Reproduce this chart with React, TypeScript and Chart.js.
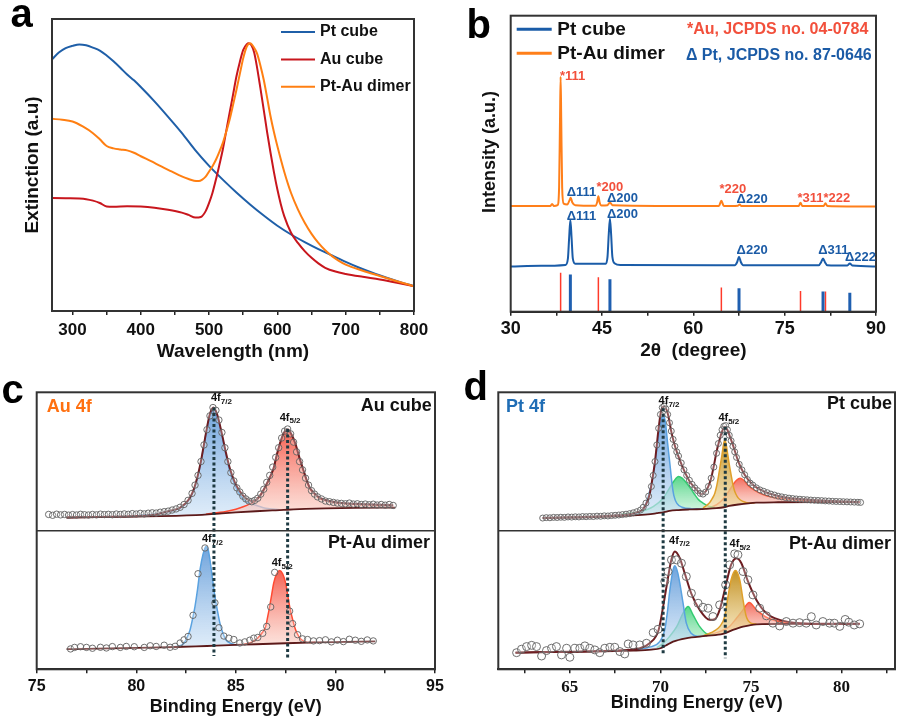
import { useEffect, useRef } from 'react';
import { Chart, registerables } from 'chart.js';

Chart.register(...registerables);

const SANS = "'Liberation Sans', Arial, Helvetica, sans-serif";
const SERIF = "'Liberation Serif', 'Times New Roman', serif";
Chart.defaults.font.family = SANS;

type P = [number, number];

// ---------------- Panel a: UV-vis extinction ----------------
const uvSeriesNames = ['Pt cube', 'Au cube', 'Pt-Au dimer'];
const uvPtCube: P[] = [[270,0.862],[280,0.885],[290,0.9],[300,0.908],[310,0.913],[320,0.91],[330,0.902],[340,0.892],[350,0.875],[360,0.855],[370,0.833],[380,0.81],[390,0.79],[400,0.767],[420,0.718],[440,0.665],[460,0.61],[480,0.55],[500,0.497],[520,0.45],[540,0.406],[560,0.365],[580,0.327],[600,0.292],[620,0.262],[640,0.236],[660,0.212],[680,0.19],[700,0.168],[720,0.148],[740,0.13],[760,0.114],[780,0.099],[800,0.085]];
const uvAuCube: P[] = [[270,0.387],[290,0.386],[310,0.385],[320,0.383],[330,0.378],[340,0.37],[350,0.358],[360,0.357],[380,0.359],[400,0.358],[420,0.354],[440,0.347],[460,0.337],[470,0.329],[480,0.32],[488,0.322],[495,0.342],[500,0.37],[505,0.405],[510,0.45],[515,0.5],[520,0.552],[525,0.615],[530,0.678],[535,0.74],[540,0.803],[545,0.853],[550,0.894],[555,0.913],[558,0.917],[562,0.91],[566,0.885],[570,0.837],[575,0.765],[580,0.689],[585,0.612],[590,0.541],[595,0.475],[600,0.416],[605,0.366],[610,0.325],[620,0.268],[630,0.233],[640,0.205],[650,0.182],[660,0.163],[670,0.148],[685,0.135],[700,0.127],[725,0.117],[750,0.108],[775,0.097],[800,0.085]];
const uvPtAuDimer: P[] = [[270,0.658],[285,0.655],[300,0.649],[315,0.632],[330,0.609],[340,0.588],[350,0.565],[360,0.557],[370,0.553],[380,0.55],[390,0.542],[400,0.53],[415,0.513],[430,0.495],[445,0.478],[460,0.461],[470,0.452],[478,0.446],[485,0.445],[490,0.45],[495,0.46],[500,0.478],[505,0.496],[510,0.518],[515,0.545],[520,0.575],[525,0.613],[530,0.655],[535,0.705],[540,0.757],[545,0.812],[550,0.866],[555,0.905],[560,0.917],[565,0.905],[570,0.883],[575,0.842],[580,0.792],[585,0.73],[590,0.666],[595,0.612],[600,0.564],[610,0.477],[620,0.404],[630,0.348],[640,0.302],[650,0.264],[660,0.233],[670,0.208],[680,0.188],[690,0.172],[700,0.159],[725,0.138],[750,0.12],[775,0.102],[800,0.085]];

// ---------------- Panel b: XRD ----------------
const xrdSeriesNames = ['Pt cube', 'Pt-Au dimer'];
const xrdPtCube: P[] = [[30,0.153],[35,0.155],[39.0,0.158],[39.4,0.18],[39.6,0.25],[39.8,0.31],[40.0,0.25],[40.2,0.18],[40.6,0.162],[45.6,0.162],[45.9,0.185],[46.1,0.26],[46.3,0.315],[46.5,0.26],[46.7,0.185],[47.1,0.163],[48,0.158],[66.8,0.157],[67.2,0.168],[67.5,0.186],[67.8,0.168],[68.2,0.157],[80.6,0.157],[81.0,0.168],[81.3,0.18],[81.6,0.168],[82.0,0.157],[85.3,0.156],[85.7,0.163],[86.1,0.156],[90,0.153]];
const xrdPtAuDimer: P[] = [[30,0.357],[36.5,0.357],[36.8,0.364],[37.1,0.357],[37.7,0.36],[37.95,0.42],[38.1,0.65],[38.2,0.794],[38.3,0.65],[38.45,0.42],[38.7,0.365],[39.3,0.362],[39.65,0.376],[39.85,0.385],[40.1,0.37],[40.6,0.36],[43.9,0.358],[44.2,0.37],[44.4,0.39],[44.6,0.37],[44.9,0.359],[45.9,0.36],[46.3,0.369],[46.7,0.36],[64.2,0.357],[64.6,0.375],[65.0,0.357],[67.3,0.358],[67.6,0.362],[67.9,0.357],[77.3,0.357],[77.6,0.368],[77.9,0.357],[81.4,0.357],[81.7,0.366],[82.0,0.357],[90,0.355]];
const auRefPos = [38.2, 44.4, 64.6, 77.6, 81.7];
const auRefInt = [0.132, 0.116, 0.082, 0.07, 0.068];
const ptRefPos = [39.8, 46.3, 67.5, 81.3, 85.7];
const ptRefInt = [0.126, 0.11, 0.079, 0.068, 0.064];
const xrdLabelText = ['*111','Δ111','*200','Δ200','*220','Δ220','*311*222','Δ111','Δ200','Δ220','Δ311','Δ222'];
const xrdLabelX = [38.1,39.2,44.1,45.8,64.3,67.1,77.1,39.2,45.8,67.1,80.5,84.9];
const xrdLabelY = [0.796,0.402,0.42,0.383,0.413,0.38,0.383,0.323,0.329,0.208,0.208,0.182];

// ---------------- Panel c: Au 4f XPS ----------------
const auCubeBg: P[] = [[76.5,1.096],[78,1.099],[80,1.103],[82,1.108],[83,1.113],[83.6,1.118],[84.3,1.126],[85,1.133],[86,1.141],[87,1.148],[87.6,1.152],[88.5,1.158],[89.5,1.162],[91,1.166],[93,1.168]];
const auCube7: P[] = [[80.2,1.112],[81,1.122],[81.5,1.135],[82,1.152],[82.2,1.163],[82.45,1.19],[82.7,1.235],[82.9,1.3],[83.07,1.38],[83.25,1.5],[83.4,1.62],[83.55,1.74],[83.7,1.84],[83.87,1.885],[84.05,1.84],[84.3,1.69],[84.5,1.55],[84.7,1.43],[84.95,1.33],[85.2,1.26],[85.5,1.215],[85.9,1.19],[86.5,1.163],[87.2,1.152]];
const auCube5: P[] = [[83.5,1.12],[84.5,1.14],[85.0,1.155],[85.4,1.175],[85.7,1.195],[86.0,1.22],[86.25,1.265],[86.5,1.32],[86.7,1.38],[86.9,1.45],[87.05,1.54],[87.2,1.62],[87.4,1.7],[87.6,1.728],[87.8,1.69],[88.0,1.62],[88.2,1.52],[88.4,1.43],[88.55,1.365],[88.7,1.31],[88.95,1.265],[89.2,1.235],[89.7,1.212],[90.2,1.2],[91,1.192],[91.9,1.187],[92.9,1.183]];
const auCubeFit: P[] = [[76.5,1.096],[78,1.1],[80,1.106],[81,1.118],[81.5,1.137],[82,1.155],[82.2,1.168],[82.45,1.195],[82.7,1.24],[82.9,1.305],[83.07,1.388],[83.25,1.505],[83.4,1.625],[83.55,1.745],[83.7,1.845],[83.87,1.89],[84.05,1.845],[84.3,1.7],[84.5,1.565],[84.7,1.45],[84.95,1.35],[85.2,1.285],[85.5,1.235],[85.75,1.215],[85.95,1.218],[86.2,1.25],[86.5,1.325],[86.7,1.385],[86.9,1.455],[87.05,1.545],[87.2,1.625],[87.4,1.705],[87.6,1.733],[87.8,1.695],[88.0,1.625],[88.2,1.525],[88.4,1.435],[88.55,1.37],[88.7,1.315],[88.95,1.27],[89.2,1.24],[89.7,1.215],[90.2,1.203],[91,1.195],[91.9,1.19],[92.9,1.185]];
const auCubeRaw: P[] = [[75.6,1.118],[75.8,1.112],[76.0,1.12],[76.2,1.115],[76.4,1.118],[76.6,1.113],[76.8,1.117],[77.0,1.114],[77.2,1.119],[77.4,1.116],[77.6,1.114],[77.8,1.118],[78.0,1.115],[78.2,1.12],[78.4,1.117],[78.6,1.119],[78.8,1.116],[79.0,1.121],[79.2,1.118],[79.4,1.122],[79.6,1.119],[79.8,1.124],[80.0,1.121],[80.2,1.126],[80.4,1.122],[80.6,1.127],[80.8,1.13],[81.0,1.128],[81.2,1.134],[81.4,1.138],[81.6,1.142],[81.8,1.15],[82.0,1.158],[82.2,1.17],[82.4,1.19],[82.6,1.22],[82.8,1.27],[82.95,1.33],[83.1,1.4],[83.25,1.5],[83.4,1.62],[83.55,1.73],[83.7,1.83],[83.85,1.89],[84.0,1.87],[84.15,1.8],[84.3,1.71],[84.45,1.6],[84.6,1.5],[84.75,1.42],[84.9,1.36],[85.05,1.31],[85.2,1.28],[85.35,1.25],[85.5,1.23],[85.65,1.215],[85.8,1.21],[85.95,1.22],[86.1,1.235],[86.25,1.265],[86.4,1.3],[86.55,1.35],[86.7,1.4],[86.85,1.46],[87.0,1.53],[87.15,1.6],[87.3,1.67],[87.45,1.72],[87.6,1.735],[87.75,1.7],[87.9,1.64],[88.05,1.57],[88.2,1.5],[88.35,1.44],[88.5,1.38],[88.65,1.33],[88.8,1.29],[88.95,1.265],[89.1,1.245],[89.3,1.23],[89.5,1.215],[89.7,1.21],[89.9,1.205],[90.1,1.2],[90.3,1.198],[90.5,1.195],[90.7,1.2],[90.9,1.193],[91.1,1.195],[91.3,1.19],[91.5,1.193],[91.7,1.188],[91.9,1.192],[92.1,1.186],[92.3,1.19],[92.5,1.185],[92.7,1.19],[92.9,1.183]];
const auDimerBg: P[] = [[76.5,0.145],[78,0.149],[80,0.155],[82,0.161],[83,0.165],[84,0.171],[85,0.176],[86,0.181],[87.5,0.188],[89,0.194],[90.5,0.198],[92,0.202]];
const auDimer7: P[] = [[81.9,0.163],[82.2,0.17],[82.4,0.19],[82.55,0.23],[82.7,0.284],[82.82,0.36],[82.95,0.455],[83.08,0.58],[83.2,0.718],[83.35,0.83],[83.5,0.887],[83.6,0.87],[83.7,0.79],[83.82,0.66],[83.95,0.525],[84.08,0.42],[84.2,0.333],[84.35,0.26],[84.5,0.213],[84.75,0.187],[85.0,0.178],[85.3,0.177]];
const auDimer5: P[] = [[85.4,0.179],[85.7,0.19],[85.9,0.205],[86.1,0.226],[86.3,0.26],[86.5,0.31],[86.6,0.38],[86.7,0.455],[86.8,0.54],[86.9,0.622],[87.05,0.69],[87.2,0.713],[87.35,0.69],[87.5,0.622],[87.6,0.54],[87.7,0.455],[87.85,0.36],[88.0,0.285],[88.15,0.24],[88.3,0.213],[88.5,0.198],[88.7,0.193],[89,0.195]];
const auDimerRaw: P[] = [[76.7,0.147],[76.9,0.158],[77.2,0.163],[77.5,0.158],[77.8,0.152],[78.2,0.159],[78.5,0.154],[78.8,0.164],[79.2,0.158],[79.5,0.165],[79.9,0.163],[80.4,0.158],[80.7,0.17],[81.0,0.165],[81.4,0.174],[81.7,0.159],[81.95,0.166],[82.2,0.19],[82.4,0.213],[82.6,0.237],[82.85,0.39],[83.1,0.69],[83.45,0.876],[83.95,0.48],[84.15,0.3],[84.4,0.24],[84.65,0.225],[84.9,0.215],[85.2,0.19],[85.45,0.198],[85.7,0.21],[85.9,0.225],[86.1,0.23],[86.35,0.26],[86.55,0.31],[86.75,0.45],[86.95,0.7],[87.7,0.42],[87.85,0.33],[88.1,0.25],[88.35,0.22],[88.6,0.215],[88.9,0.205],[89.2,0.207],[89.5,0.213],[89.8,0.198],[90.1,0.21],[90.4,0.2],[90.7,0.217],[91.0,0.21],[91.3,0.202],[91.6,0.212],[91.9,0.205]];
const auRefLines = [83.9, 87.6];
const auRefTop = [1.89, 1.735];
const auRefBottom = [0.096, 0.08];
const auOrbSub = ['7/2', '5/2', '7/2', '5/2'];
const auOrbX = [83.75, 87.2, 83.3, 86.8];
const auOrbY = [1.958, 1.818, 0.94, 0.765];

// ---------------- Panel d: Pt 4f XPS ----------------
const ptCubeBg: P[] = [[63.5,1.091],[66,1.098],[68.3,1.11],[69.3,1.118],[69.8,1.127],[70.2,1.135],[70.5,1.144],[71,1.15],[71.6,1.154],[72.5,1.158],[73.1,1.163],[73.5,1.17],[73.8,1.18],[74.3,1.19],[75.3,1.203],[76.5,1.206],[79.3,1.207],[81,1.206]];
const ptCube0a: P[] = [[67.5,1.108],[68.1,1.118],[68.5,1.125],[68.9,1.14],[69.1,1.17],[69.3,1.235],[69.45,1.31],[69.6,1.4],[69.75,1.54],[69.9,1.69],[70.05,1.8],[70.15,1.837],[70.28,1.78],[70.4,1.63],[70.55,1.45],[70.65,1.33],[70.75,1.25],[70.9,1.2],[71.2,1.17],[71.7,1.16],[72.4,1.159]];
const ptCube2a: P[] = [[67.9,1.12],[68.9,1.139],[69.6,1.175],[70.15,1.235],[70.5,1.308],[70.75,1.36],[71.0,1.392],[71.2,1.38],[71.45,1.344],[71.7,1.3],[71.9,1.26],[72.1,1.225],[72.35,1.2],[72.7,1.175],[73.0,1.168]];
const ptCube0b: P[] = [[72.35,1.165],[72.7,1.2],[72.85,1.23],[73.0,1.27],[73.1,1.32],[73.2,1.39],[73.3,1.47],[73.4,1.55],[73.48,1.62],[73.55,1.656],[73.62,1.63],[73.7,1.565],[73.8,1.48],[73.9,1.405],[74.0,1.335],[74.1,1.285],[74.25,1.245],[74.4,1.224],[74.6,1.21],[74.9,1.2],[75.2,1.2]];
const ptCube2b: P[] = [[72.5,1.163],[72.8,1.172],[73.1,1.188],[73.4,1.22],[73.65,1.26],[73.85,1.3],[74.0,1.332],[74.2,1.365],[74.4,1.38],[74.6,1.365],[74.9,1.32],[75.3,1.285],[75.7,1.26],[76.2,1.243],[76.8,1.231],[77.6,1.222],[78.4,1.216],[79.5,1.211],[81,1.207]];
const ptCubeFit: P[] = [[63.5,1.092],[65,1.097],[66.5,1.103],[67.5,1.11],[68.3,1.12],[68.7,1.133],[69.0,1.151],[69.2,1.19],[69.4,1.26],[69.55,1.37],[69.7,1.5],[69.8,1.62],[69.9,1.74],[70.05,1.873],[70.2,1.897],[70.4,1.849],[70.6,1.716],[70.75,1.635],[70.9,1.572],[71.25,1.452],[71.6,1.36],[72.0,1.296],[72.26,1.264],[72.5,1.284],[72.8,1.38],[72.95,1.47],[73.1,1.572],[73.25,1.65],[73.4,1.716],[73.55,1.752],[73.7,1.728],[73.85,1.675],[74.0,1.62],[74.3,1.5],[74.65,1.404],[75.1,1.332],[75.7,1.284],[76.6,1.248],[77.5,1.231],[78.6,1.221],[79.3,1.216],[81,1.207]];
const ptCubeRaw: P[] = [[63.5,1.092],[63.7,1.095],[63.9,1.094],[64.1,1.097],[64.3,1.096],[64.5,1.098],[64.7,1.097],[64.9,1.1],[65.1,1.099],[65.3,1.101],[65.5,1.1],[65.7,1.103],[65.9,1.102],[66.1,1.104],[66.3,1.103],[66.5,1.106],[66.7,1.105],[66.9,1.108],[67.1,1.107],[67.3,1.11],[67.5,1.112],[67.7,1.114],[67.9,1.117],[68.1,1.12],[68.3,1.124],[68.5,1.13],[68.7,1.138],[68.9,1.15],[69.05,1.17],[69.2,1.2],[69.35,1.25],[69.5,1.32],[69.6,1.4],[69.7,1.5],[69.8,1.62],[69.9,1.74],[70.0,1.84],[70.1,1.89],[70.2,1.9],[70.3,1.88],[70.4,1.84],[70.5,1.78],[70.6,1.72],[70.7,1.66],[70.8,1.61],[70.9,1.57],[71.0,1.54],[71.15,1.49],[71.3,1.44],[71.45,1.4],[71.6,1.365],[71.75,1.335],[71.9,1.31],[72.05,1.29],[72.2,1.27],[72.35,1.265],[72.5,1.28],[72.65,1.32],[72.8,1.38],[72.95,1.46],[73.1,1.56],[73.2,1.63],[73.3,1.69],[73.4,1.73],[73.5,1.755],[73.6,1.76],[73.7,1.73],[73.8,1.69],[73.9,1.65],[74.0,1.61],[74.1,1.57],[74.2,1.53],[74.35,1.48],[74.5,1.44],[74.65,1.405],[74.8,1.37],[74.95,1.345],[75.1,1.33],[75.3,1.31],[75.5,1.295],[75.7,1.285],[75.9,1.275],[76.1,1.265],[76.3,1.258],[76.5,1.25],[76.7,1.245],[76.9,1.24],[77.1,1.236],[77.3,1.233],[77.5,1.23],[77.7,1.228],[77.9,1.226],[78.1,1.224],[78.3,1.222],[78.5,1.22],[78.7,1.219],[78.9,1.218],[79.1,1.216],[79.3,1.215],[79.5,1.213],[79.7,1.212],[79.9,1.211],[80.1,1.21],[80.3,1.209],[80.5,1.208],[80.7,1.207],[80.9,1.206],[81.05,1.205]];
const ptDimerBg: P[] = [[62,0.12],[65,0.126],[68.5,0.135],[69.5,0.142],[70.0,0.152],[70.3,0.172],[70.7,0.2],[71.4,0.224],[72.5,0.241],[73.45,0.255],[74.0,0.284],[74.56,0.308],[75.3,0.325],[77,0.328],[81,0.328]];
const ptDimer0a: P[] = [[68.5,0.14],[69.4,0.16],[69.96,0.2],[70.24,0.284],[70.4,0.429],[70.5,0.55],[70.6,0.646],[70.7,0.72],[70.8,0.747],[70.95,0.7],[71.07,0.622],[71.25,0.477],[71.43,0.333],[71.7,0.26],[72.17,0.236],[72.6,0.245]];
const ptDimer2a: P[] = [[69.8,0.155],[70.15,0.188],[70.5,0.236],[70.9,0.308],[71.25,0.405],[71.53,0.453],[71.8,0.393],[72.17,0.308],[72.6,0.255],[73.1,0.25]];
const ptDimer0b: P[] = [[72.4,0.245],[72.72,0.26],[73.0,0.28],[73.27,0.308],[73.55,0.381],[73.73,0.525],[73.9,0.646],[74.14,0.713],[74.38,0.646],[74.56,0.501],[74.74,0.381],[75.0,0.333],[75.3,0.327]];
const ptDimer2b: P[] = [[72.5,0.242],[73.27,0.272],[73.8,0.308],[74.2,0.369],[74.56,0.429],[74.9,0.482],[75.3,0.429],[75.85,0.376],[76.58,0.345],[77.7,0.33],[79,0.328]];
const ptDimerFit: P[] = [[62,0.12],[65,0.127],[67.6,0.135],[68.86,0.152],[69.4,0.188],[69.9,0.284],[70.15,0.453],[70.4,0.646],[70.6,0.79],[70.8,0.851],[71.07,0.802],[71.34,0.694],[71.7,0.549],[72.17,0.429],[72.72,0.357],[73.0,0.361],[73.27,0.429],[73.64,0.622],[73.9,0.754],[74.2,0.802],[74.47,0.766],[74.8,0.646],[75.3,0.501],[75.85,0.405],[76.58,0.357],[77.7,0.333],[79.3,0.328],[81,0.328]];
const ptDimerRaw: P[] = [[62.06,0.12],[62.33,0.145],[62.61,0.164],[62.89,0.173],[63.16,0.164],[63.44,0.096],[63.71,0.135],[63.99,0.152],[64.26,0.164],[64.54,0.104],[64.82,0.152],[65.0,0.087],[65.28,0.152],[65.55,0.152],[65.83,0.169],[66.1,0.152],[66.38,0.14],[66.65,0.12],[66.93,0.152],[67.21,0.159],[67.48,0.159],[67.76,0.128],[68.03,0.111],[68.22,0.183],[68.49,0.176],[68.86,0.176],[69.23,0.188],[69.6,0.265],[69.87,0.289],[70.24,0.634],[70.42,0.706],[70.61,0.79],[70.88,0.79],[71.16,0.766],[71.43,0.67],[71.71,0.549],[72.08,0.477],[72.35,0.448],[72.63,0.441],[72.9,0.381],[73.27,0.465],[73.6,0.61],[73.82,0.754],[74.1,0.834],[74.28,0.827],[74.56,0.706],[74.83,0.646],[75.11,0.537],[75.48,0.441],[75.85,0.386],[76.21,0.333],[76.58,0.313],[76.95,0.345],[77.32,0.333],[77.68,0.337],[78.05,0.333],[78.33,0.38],[78.6,0.32],[78.97,0.345],[79.34,0.333],[79.6,0.333],[79.9,0.31],[80.2,0.36],[80.4,0.34],[80.7,0.32],[81.0,0.328]];
const ptRefLines = [70.15, 73.58];
const ptRefTop = [1.885, 1.752];
const ptRefBottom = [0.104, 0.08];
const ptOrbSub = ['7/2', '5/2', '7/2', '5/2'];
const ptOrbX = [69.9, 73.2, 70.48, 73.82];
const ptOrbY = [1.938, 1.815, 0.93, 0.905];

// ---------------- helpers ----------------
const xy = (pts: P[]) => pts.map(([x, y]) => ({ x, y }));
const sticks = (pos: number[], h: number[]) =>
  pos.flatMap((x, i) => [{ x, y: 0 }, { x, y: h[i] }, { x, y: null as any }]);
const isMult = (v: number, m: number) => Math.abs(v / m - Math.round(v / m)) < 1e-6;

function xScale(o: any) {
  return {
    type: 'linear', min: o.min, max: o.max,
    afterFit: (s: any) => { s.height = o.height; },
    ticks: {
      stepSize: o.step, includeBounds: false, autoSkip: false, maxRotation: 0, minRotation: 0,
      padding: o.tickPad, color: '#111', font: o.tickFont,
      callback: (v: number) => (isMult(v, o.every) ? String(v) : ''),
    },
    grid: { display: true, drawOnChartArea: false, drawTicks: true, tickLength: 4, color: '#222', lineWidth: 1.5 },
    border: { display: true, color: '#222', width: 2 },
    title: { display: true, text: o.title, color: '#111', font: { size: o.titleSize, weight: 'bold', family: SANS }, padding: { top: 0, bottom: o.titlePad } },
  };
}

function text(ctx: CanvasRenderingContext2D, s: string, x: number, y: number, font: string, color: string, align: CanvasTextAlign = 'left', baseline: CanvasTextBaseline = 'middle') {
  ctx.save();
  ctx.font = font; ctx.fillStyle = color; ctx.textAlign = align; ctx.textBaseline = baseline;
  ctx.fillText(s, x, y);
  ctx.restore();
}
function vtext(ctx: CanvasRenderingContext2D, s: string, x: number, y: number, font: string) {
  ctx.save();
  ctx.translate(x, y); ctx.rotate(-Math.PI / 2);
  ctx.font = font; ctx.fillStyle = '#111'; ctx.textAlign = 'center'; ctx.textBaseline = 'middle';
  ctx.fillText(s, 0, 0);
  ctx.restore();
}
function orbital(ctx: CanvasRenderingContext2D, x: number, y: number, sub: string) {
  ctx.save();
  ctx.fillStyle = '#111'; ctx.textAlign = 'left'; ctx.textBaseline = 'middle';
  ctx.font = `bold 11px ${SANS}`;
  ctx.fillText('4f', x, y);
  const w = ctx.measureText('4f').width;
  ctx.font = `bold 8px ${SANS}`;
  ctx.fillText(sub, x + w, y + 3.5);
  ctx.restore();
}
function line(ctx: CanvasRenderingContext2D, x1: number, y1: number, x2: number, y2: number, color: string, w: number) {
  ctx.save();
  ctx.strokeStyle = color; ctx.lineWidth = w; ctx.beginPath(); ctx.moveTo(x1, y1); ctx.lineTo(x2, y2); ctx.stroke();
  ctx.restore();
}

const framePlugin = (divider: boolean) => ({
  id: 'frame',
  afterDatasetsDraw(chart: any) {
    const { ctx, chartArea: a } = chart;
    ctx.save();
    ctx.strokeStyle = '#333'; ctx.lineWidth = 2;
    ctx.strokeRect(a.left, a.top, a.right - a.left, a.bottom - a.top);
    if (divider) {
      const y = chart.scales.y.getPixelForValue(1);
      ctx.lineWidth = 1.6; ctx.beginPath(); ctx.moveTo(a.left, y); ctx.lineTo(a.right, y); ctx.stroke();
    }
    ctx.restore();
  },
});

const gradFill = (top: string, bottom: string, pts: P[]) => (c: any) => {
  const chart = c.chart;
  if (!chart.chartArea || !chart.scales.y) return top;
  const ys = pts.map((p) => p[1]);
  const y = chart.scales.y;
  const g = chart.ctx.createLinearGradient(0, y.getPixelForValue(Math.max(...ys)), 0, y.getPixelForValue(Math.min(...ys)));
  g.addColorStop(0, top); g.addColorStop(1, bottom);
  return g;
};

const COMP = {
  blue: { line: '#5aa2e0', top: 'rgba(90,150,215,0.88)', bottom: 'rgba(205,226,246,0.65)' },
  red: { line: '#ff4a32', top: 'rgba(244,82,66,0.92)', bottom: 'rgba(251,210,200,0.65)' },
  green: { line: '#35cc72', top: 'rgba(64,208,122,0.88)', bottom: 'rgba(200,243,216,0.65)' },
  gold: { line: '#dfa02c', top: 'rgba(192,140,24,0.95)', bottom: 'rgba(242,220,165,0.7)' },
  red2: { line: '#ff5a3a', top: 'rgba(242,94,78,0.9)', bottom: 'rgba(250,212,202,0.65)' },
};

const comp = (pts: P[], c: { line: string; top: string; bottom: string }, target: number, order: number) => ({
  data: xy(pts), borderColor: c.line, borderWidth: 1.5, backgroundColor: gradFill(c.top, c.bottom, pts),
  fill: target, pointRadius: 0, cubicInterpolationMode: 'monotone', order,
});
const curve = (pts: P[], color: string, width: number, order: number) => ({
  data: xy(pts), borderColor: color, borderWidth: width, pointRadius: 0, fill: false, cubicInterpolationMode: 'monotone', order,
});
const dots = (pts: P[], r: number, order: number) => ({
  data: xy(pts), showLine: false, pointRadius: r, pointBorderWidth: 1,
  pointBorderColor: 'rgba(95,95,95,0.9)', pointBackgroundColor: 'rgba(255,255,255,0.25)', fill: false, order,
});
const dashed = (x: number, top: number, bottom: number) => ({
  data: [{ x, y: top }, { x, y: bottom }], borderColor: '#1e3a42', borderWidth: 3, borderDash: [3, 2.5],
  pointRadius: 0, fill: false, tension: 0, order: 0,
});

const baseOptions = (padding: any) => ({
  animation: false, responsive: false, maintainAspectRatio: false,
  layout: { padding },
  plugins: { legend: { display: false }, tooltip: { enabled: false } },
  elements: { point: { radius: 0 } },
});

// ---------------- chart configs ----------------
const UV_COLORS = ['#1f5fa8', '#c8161d', '#ff7f12'];
function configA() {
  return {
    type: 'line',
    data: {
      datasets: [
        { ...curve(uvPtCube, UV_COLORS[0], 2, 3), label: uvSeriesNames[0] },
        { ...curve(uvAuCube, UV_COLORS[1], 2, 2), label: uvSeriesNames[1] },
        { ...curve(uvPtAuDimer, UV_COLORS[2], 2, 1), label: uvSeriesNames[2] },
      ],
    },
    options: {
      ...baseOptions({ left: 52, top: 19, right: 36, bottom: 0 }),
      scales: {
        x: xScale({ min: 270, max: 800, step: 50, every: 100, height: 59, tickPad: 4.8, tickFont: { size: 17, weight: 'bold', family: SANS }, title: 'Wavelength (nm)', titleSize: 19, titlePad: 6.6 }),
        y: { display: false, min: 0, max: 1 },
      },
    },
    plugins: [
      framePlugin(false),
      {
        id: 'annotA',
        afterDraw(chart: any) {
          const { ctx, chartArea: a } = chart;
          text(ctx, 'a', 10.5, 27, `bold 40px ${SANS}`, '#000', 'left', 'alphabetic');
          vtext(ctx, 'Extinction (a.u)', 33, (a.top + a.bottom) / 2, `bold 19px ${SANS}`);
          uvSeriesNames.forEach((n, i) => {
            const y = a.top + 13 + i * 27.4;
            line(ctx, a.right - 133, y, a.right - 99, y, UV_COLORS[i], 2);
            text(ctx, n, a.right - 94, y, `bold 16px ${SANS}`, '#111');
          });
        },
      },
    ],
  };
}

const XRD_COLORS = ['#1a5ca8', '#ff7f1a'];
const XRD_RED = '#f2503c';
const XRD_BLUE = '#1b5ba6';
function configB() {
  return {
    type: 'line',
    data: {
      datasets: [
        { ...curve(xrdPtCube, XRD_COLORS[0], 2, 3) },
        { ...curve(xrdPtAuDimer, XRD_COLORS[1], 2, 2) },
        { data: sticks(auRefPos, auRefInt), borderColor: '#ff3a2a', borderWidth: 1.5, pointRadius: 0, fill: false, tension: 0, spanGaps: false, order: 1 },
        { data: sticks(ptRefPos, ptRefInt), borderColor: '#1f5fb0', borderWidth: 3, pointRadius: 0, fill: false, tension: 0, spanGaps: false, order: 0 },
      ],
    },
    options: {
      ...baseOptions({ left: 60.7, top: 15.7, right: 24, bottom: 0 }),
      scales: {
        x: xScale({ min: 30, max: 90, step: 7.5, every: 15, height: 58.3, tickPad: 2.8, tickFont: { size: 18, weight: 'bold', family: SANS }, title: '2θ  (degree)', titleSize: 19, titlePad: 7.6 }),
        y: { display: false, min: 0, max: 1 },
      },
    },
    plugins: [
      framePlugin(false),
      {
        id: 'annotB',
        afterDraw(chart: any) {
          const { ctx, chartArea: a, scales } = chart;
          text(ctx, 'b', 16.5, 38.3, `bold 40px ${SANS}`, '#000', 'left', 'alphabetic');
          vtext(ctx, 'Intensity (a.u.)', 40, 152, `bold 18px ${SANS}`);
          xrdSeriesNames.forEach((n, i) => {
            const y = a.top + 13.6 + i * 24;
            line(ctx, a.left + 6, y, a.left + 41, y, XRD_COLORS[i], 3);
            text(ctx, n, a.left + 46.6, y, `bold 19px ${SANS}`, '#111');
          });
          text(ctx, '*Au, JCPDS no. 04-0784', a.right - 7.7, a.top + 14.3, `bold 16px ${SANS}`, XRD_RED, 'right');
          text(ctx, 'Δ Pt, JCPDS no. 87-0646', a.right - 4.3, a.top + 40.3, `bold 16px ${SANS}`, XRD_BLUE, 'right');
          xrdLabelText.forEach((t, i) => {
            text(ctx, t, scales.x.getPixelForValue(xrdLabelX[i]), scales.y.getPixelForValue(xrdLabelY[i]), `bold 13px ${SANS}`, t.startsWith('*') ? XRD_RED : XRD_BLUE);
          });
        },
      },
    ],
  };
}

function configC() {
  return {
    type: 'line',
    data: {
      datasets: [
        dashed(auRefLines[0], auRefTop[0], auRefBottom[0]),
        dashed(auRefLines[1], auRefTop[1], auRefBottom[1]),
        curve(auCubeBg, '#5c1a1a', 1.8, 4),
        comp(auCube7, COMP.blue, 2, 7),
        comp(auCube5, COMP.red, 2, 6),
        curve(auCubeFit, '#6e1e22', 2, 3),
        dots(auCubeRaw, 3.2, 2),
        curve(auDimerBg, '#5c1a1a', 1.8, 4),
        comp(auDimer7, COMP.blue, 7, 7),
        comp(auDimer5, COMP.red, 7, 6),
        dots(auDimerRaw, 3.2, 2),
      ],
    },
    options: {
      ...baseOptions({ left: 36.7, top: 32.3, right: 15, bottom: 0 }),
      scales: {
        x: xScale({ min: 75, max: 95, step: 2.5, every: 5, height: 49.7, tickPad: 3.8, tickFont: { size: 16, weight: 'bold', family: SANS }, title: 'Binding Energy (eV)', titleSize: 18, titlePad: 1.5 }),
        y: { display: false, min: 0, max: 2 },
      },
    },
    plugins: [
      framePlugin(true),
      {
        id: 'annotC',
        afterDraw(chart: any) {
          const { ctx, chartArea: a, scales } = chart;
          const div = scales.y.getPixelForValue(1);
          text(ctx, 'c', 1.5, 43, `bold 40px ${SANS}`, '#000', 'left', 'alphabetic');
          text(ctx, 'Au 4f', a.left + 10, a.top + 15, `bold 18px ${SANS}`, '#ff7010');
          text(ctx, 'Au cube', a.right - 3.3, a.top + 13.4, `bold 18px ${SANS}`, '#111', 'right');
          text(ctx, 'Pt-Au dimer', a.right - 5, div + 12.3, `bold 18px ${SANS}`, '#111', 'right');
          auOrbSub.forEach((s, i) => orbital(ctx, scales.x.getPixelForValue(auOrbX[i]), scales.y.getPixelForValue(auOrbY[i]), s));
        },
      },
    ],
  };
}

function configD() {
  return {
    type: 'line',
    data: {
      datasets: [
        dashed(ptRefLines[0], ptRefTop[0], ptRefBottom[0]),
        dashed(ptRefLines[1], ptRefTop[1], ptRefBottom[1]),
        curve(ptCubeBg, '#5c1a1a', 1.8, 4),
        comp(ptCube0a, COMP.blue, 2, 7),
        comp(ptCube2a, COMP.green, 2, 8),
        comp(ptCube0b, COMP.gold, 2, 7.5),
        comp(ptCube2b, COMP.red2, 2, 9),
        curve(ptCubeFit, '#6e1e22', 2, 3),
        dots(ptCubeRaw, 3, 2),
        curve(ptDimerBg, '#5c1a1a', 1.8, 4),
        comp(ptDimer0a, COMP.blue, 9, 7),
        comp(ptDimer2a, COMP.green, 9, 8),
        comp(ptDimer0b, COMP.gold, 9, 7.5),
        comp(ptDimer2b, COMP.red2, 9, 9),
        curve(ptDimerFit, '#6e1e22', 2, 3),
        dots(ptDimerRaw, 4, 2),
      ],
    },
    options: {
      ...baseOptions({ left: 48.3, top: 32.3, right: 4.3, bottom: 0 }),
      scales: {
        x: xScale({ min: 61.05, max: 82.95, step: 2.5, every: 5, height: 49.7, tickPad: 3.8, tickFont: { size: 17, weight: 'bold', family: SERIF }, title: 'Binding Energy (eV)', titleSize: 18, titlePad: 4.9 }),
        y: { display: false, min: 0, max: 2 },
      },
    },
    plugins: [
      framePlugin(true),
      {
        id: 'annotD',
        afterDraw(chart: any) {
          const { ctx, chartArea: a, scales } = chart;
          const div = scales.y.getPixelForValue(1);
          text(ctx, 'd', 13.5, 40, `bold 40px ${SANS}`, '#000', 'left', 'alphabetic');
          text(ctx, 'Pt 4f', a.left + 7.7, a.top + 15, `bold 18px ${SANS}`, '#1f6db5');
          text(ctx, 'Pt cube', a.right - 3, a.top + 11.7, `bold 18px ${SANS}`, '#111', 'right');
          text(ctx, 'Pt-Au dimer', a.right - 4, div + 13, `bold 18px ${SANS}`, '#111', 'right');
          ptOrbSub.forEach((s, i) => orbital(ctx, scales.x.getPixelForValue(ptOrbX[i]), scales.y.getPixelForValue(ptOrbY[i]), s));
        },
      },
    ],
  };
}

function ChartCanvas({ left, top, width, height, build }: { left: number; top: number; width: number; height: number; build: () => any }) {
  const ref = useRef<HTMLCanvasElement>(null);
  useEffect(() => {
    const chart = new Chart(ref.current as HTMLCanvasElement, build());
    return () => chart.destroy();
  }, []);
  return <canvas ref={ref} width={width} height={height} style={{ position: 'absolute', left, top, width, height }} />;
}

export default function App() {
  return (
    <div style={{ position: 'absolute', left: 0, top: 0, width: 900, height: 719, background: '#fff', overflow: 'hidden' }}>
      <ChartCanvas left={0} top={0} width={450} height={370} build={configA} />
      <ChartCanvas left={450} top={0} width={450} height={370} build={configB} />
      <ChartCanvas left={0} top={360} width={450} height={359} build={configC} />
      <ChartCanvas left={450} top={360} width={450} height={359} build={configD} />
    </div>
  );
}
